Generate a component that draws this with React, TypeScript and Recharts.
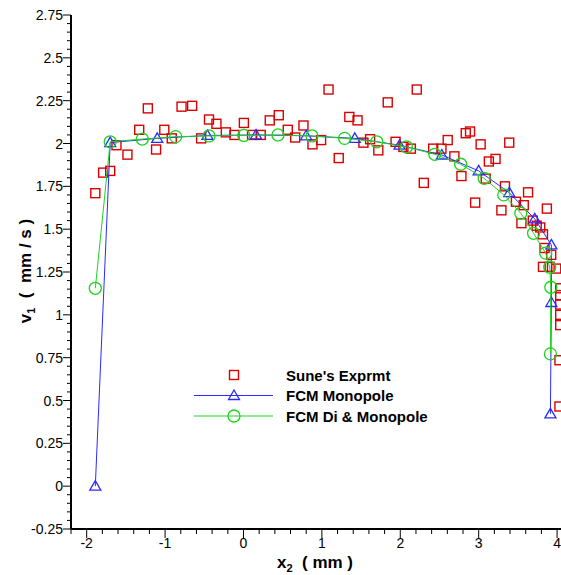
import React from 'react';
import { ScatterChart, Scatter, XAxis, YAxis } from 'recharts';

// Sune's experiment (scattered squares)
const expX = [
  -1.89, -1.79, -1.7, -1.62, -1.48, -1.33, -1.22, -1.115, -1.01, -0.915,
  -0.79, -0.655, -0.54, -0.44, -0.345, -0.225, -0.115, 0.005, 0.11, 0.22,
  0.335, 0.45, 0.565, 0.66, 0.765, 0.88, 0.99, 1.085, 1.215, 1.35,
  1.455, 1.53, 1.615, 1.72, 1.84, 1.94, 2.04, 2.135, 2.21, 2.3,
  2.42, 2.525, 2.605, 2.69, 2.78, 2.835, 2.89, 2.955, 3.025, 3.09,
  3.13, 3.215, 3.29, 3.335, 3.39, 3.475, 3.545, 3.575, 3.63, 3.69,
  3.74, 3.785, 3.82, 3.87, 3.84, 3.925, 3.82, 3.905, 3.99, 4.04,
  4.04, 4.04, 4.04, 4.04, 4.03, 4.03,
];
const expY = [
  1.71, 1.83, 1.84, 1.99, 1.935, 2.08, 2.205, 1.965, 2.08, 2.03,
  2.215, 2.22, 2.03, 2.14, 2.115, 2.065, 2.05, 2.12, 2.05, 2.05,
  2.135, 2.165, 2.08, 2.035, 2.105, 1.995, 2.02, 2.315, 1.915, 2.155,
  2.135, 2.005, 2.025, 1.96, 2.24, 2.01, 1.98, 1.97, 2.315, 1.77,
  1.97, 1.97, 2.02, 1.925, 1.81, 2.06, 2.07, 1.655, 1.995, 1.795,
  1.895, 1.91, 1.61, 1.75, 2.005, 1.66, 1.535, 1.64, 1.715, 1.55,
  1.52, 1.51, 1.47, 1.62, 1.39, 1.35, 1.28, 1.28, 1.27, 1.155,
  1.115, 1.06, 1.0, 0.94, 0.735, 0.465,
];

// FCM Monopole (triangles)
const monoX = [-1.89, -1.7, -1.1, -0.46, 0.16, 0.8, 1.42, 1.99, 2.53, 3.0, 3.39, 3.715, 3.927, 3.927, 3.915];
const monoY = [0.0, 2.005, 2.03, 2.047, 2.05, 2.045, 2.03, 1.99, 1.933, 1.84, 1.713, 1.56, 1.408, 1.072, 0.422];

// FCM Di & Monopole (circles)
const diX = [-1.89, -1.7, -1.29, -0.865, -0.44, 0.004, 0.44, 0.874, 1.29, 1.7, 2.08, 2.44, 2.77, 3.07, 3.32, 3.537, 3.7, 3.855, 3.906, 3.92, 3.915];
const diY = [1.155, 2.01, 2.026, 2.04, 2.044, 2.047, 2.05, 2.044, 2.03, 2.01, 1.98, 1.937, 1.879, 1.797, 1.7, 1.593, 1.476, 1.36, 1.278, 1.161, 0.772];

const xMajor = [-2, -1, 0, 1, 2, 3, 4];
const yMajor = [-0.25, 0, 0.25, 0.5, 0.75, 1, 1.25, 1.5, 1.75, 2, 2.25, 2.5, 2.75];
const legendNames = ["Sune's Exprmt", 'FCM Monopole', 'FCM Di & Monopole'];

const RED = '#d80000';
const BLUE = '#2b2bff';
const GREEN = '#1fd21f';
const FONT = '"Liberation Sans", Arial, Helvetica, sans-serif';

const zip = (xs: number[], ys: number[]) => xs.map((x, i) => ({ x, y: ys[i] }));
const expData = zip(expX, expY);
const monoData = zip(monoX, monoY);
const diData = zip(diX, diY);

// minor ticks every 0.2 on x, 0.05 on y
const steps = (from: number, to: number, step: number) => {
  const out: number[] = [];
  for (let i = 0; from + i * step <= to + 1e-9; i++) out.push(Math.round((from + i * step) * 100) / 100);
  return out;
};
const xTicks = steps(-2.2, 4.0, 0.2);
const yTicks = steps(-0.25, 2.75, 0.05);

const isMajor = (list: number[], v: number) => list.some((m) => Math.abs(m - v) < 1e-6);

const XTick = (props: any) => {
  const { x, y, payload } = props;
  const major = isMajor(xMajor, payload.value);
  return (
    <g>
      <line x1={x} x2={x} y1={y} y2={y + (major ? 9 : 5)} stroke="#000" strokeWidth={1} />
      {major && (
        <text x={x} y={y + 19} textAnchor="middle" fontSize={14} fontFamily={FONT} fill="#000">
          {payload.value}
        </text>
      )}
    </g>
  );
};

const YTick = (props: any) => {
  const { x, y, payload } = props;
  const major = isMajor(yMajor, payload.value);
  return (
    <g>
      <line x1={x - (major ? 8 : 4)} x2={x} y1={y} y2={y} stroke="#000" strokeWidth={1} />
      {major && (
        <text x={x - 8} y={y} dy="0.36em" textAnchor="end" fontSize={14} fontFamily={FONT} fill="#000">
          {payload.value}
        </text>
      )}
    </g>
  );
};

const Square = ({ cx, cy }: any) => (
  <rect x={cx - 4.5} y={cy - 4.5} width={9} height={9} fill="none" stroke={RED} strokeWidth={1.4} />
);
const Triangle = ({ cx, cy }: any) => (
  <path d={`M${cx},${cy - 5.5} L${cx + 5.5},${cy + 4} L${cx - 5.5},${cy + 4} Z`} fill="none" stroke={BLUE} strokeWidth={1.3} />
);
const Circle = ({ cx, cy }: any) => (
  <circle cx={cx} cy={cy} r={6} fill="none" stroke={GREEN} strokeWidth={1.3} />
);

export default function App() {
  return (
    <div style={{ position: 'absolute', left: 0, top: 0, width: 561, height: 575, overflow: 'hidden', background: '#fff' }}>
      <ScatterChart width={561} height={575} margin={{ top: 15, right: 0, bottom: 0, left: 0 }}>
        <XAxis
          type="number"
          dataKey="x"
          domain={[-2.2, 4.05]}
          ticks={xTicks}
          interval={0}
          height={46}
          tickSize={0}
          tickMargin={0}
          tickLine={false}
          axisLine={{ stroke: '#000', strokeWidth: 2 }}
          tick={<XTick />}
          allowDataOverflow
        />
        <YAxis
          type="number"
          dataKey="y"
          domain={[-0.25, 2.75]}
          ticks={yTicks}
          interval={0}
          width={71}
          tickSize={0}
          tickMargin={0}
          tickLine={false}
          axisLine={{ stroke: '#000', strokeWidth: 2 }}
          tick={<YTick />}
          allowDataOverflow
        />
        <Scatter data={expData} shape={<Square />} isAnimationActive={false} />
        <Scatter data={monoData} shape={<Triangle />} line={{ stroke: BLUE, strokeWidth: 1 }} lineType="joint" isAnimationActive={false} />
        <Scatter data={diData} shape={<Circle />} line={{ stroke: GREEN, strokeWidth: 1 }} lineType="joint" isAnimationActive={false} />
      </ScatterChart>

      {/* axis titles and legend */}
      <svg width={561} height={575} style={{ position: 'absolute', left: 0, top: 0, pointerEvents: 'none' }}>
        <text x={315} y={568} textAnchor="middle" fontSize={17} fontWeight="bold" fontFamily={FONT} style={{ whiteSpace: 'pre' }}>
          x<tspan fontSize={11} dy={4}>2</tspan>
          <tspan dy={-4}>{'  ( mm )'}</tspan>
        </text>
        <text
          x={0}
          y={0}
          transform="translate(31,271) rotate(-90)"
          textAnchor="middle"
          fontSize={17}
          fontWeight="bold"
          fontFamily={FONT}
          style={{ whiteSpace: 'pre' }}
        >
          v<tspan fontSize={11} dy={4}>1</tspan>
          <tspan dy={-4}>{'  (  mm / s )'}</tspan>
        </text>

        <rect x={229.5} y={370.5} width={9} height={9} fill="none" stroke={RED} strokeWidth={1.4} />
        <line x1={194} x2={273} y1={395.5} y2={395.5} stroke={BLUE} strokeWidth={1} />
        <path d="M234,390 L239.5,399.5 L228.5,399.5 Z" fill="none" stroke={BLUE} strokeWidth={1.3} />
        <line x1={194} x2={273} y1={416} y2={416} stroke={GREEN} strokeWidth={1} />
        <circle cx={234} cy={416} r={6} fill="none" stroke={GREEN} strokeWidth={1.3} />
        {legendNames.map((n, i) => (
          <text key={n} x={286} y={380.5 + i * 20.8} fontSize={15} fontWeight="bold" fontFamily={FONT} fill="#000">
            {n}
          </text>
        ))}
      </svg>
    </div>
  );
}
